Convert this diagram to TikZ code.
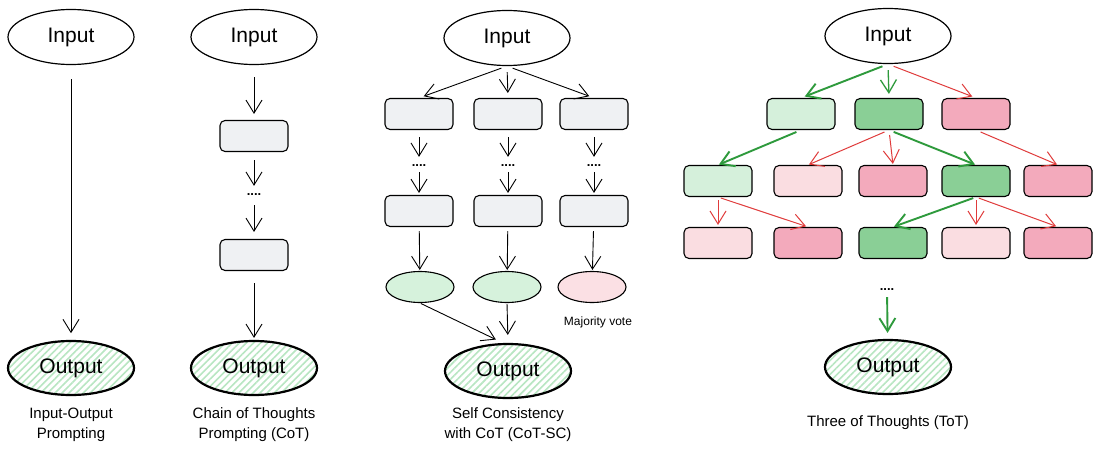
\documentclass[tikz,border=0pt]{standalone}
\usepackage{fontspec}
\setmainfont{Liberation Sans}
\usetikzlibrary{shapes.geometric,arrows.meta,patterns.meta}
\definecolor{graybox}{HTML}{EFF1F3}
\definecolor{lgreen}{HTML}{D5F0DB}
\definecolor{dgreen}{HTML}{8ACF96}
\definecolor{spink}{HTML}{F3AABC}
\definecolor{lpink}{HTML}{FADDE1}
\definecolor{egreen}{HTML}{D6F2DC}
\definecolor{epink}{HTML}{FBE0E4}
\definecolor{hatch}{HTML}{B8E6C2}
\definecolor{garrow}{HTML}{2E9A3C}
\definecolor{rarrow}{HTML}{E03B3B}
\begin{document}
\begin{tikzpicture}[x=1pt,y=-1pt,
  inell/.style={ellipse,draw,line width=1.2pt,minimum width=126pt,minimum height=55pt,inner sep=0pt,font=\fontsize{21}{24}\selectfont},
  outell/.style={ellipse,draw,line width=2.2pt,minimum width=126pt,minimum height=54pt,inner sep=0pt,
     preaction={fill=white},pattern={Lines[angle=45,distance=5pt,line width=1.6pt]},pattern color=hatch,
     font=\fontsize{21}{24}\selectfont},
  tbox/.style={rectangle,draw,line width=1.1pt,rounded corners=5pt,minimum width=68pt,minimum height=31pt,inner sep=0pt},
  sell/.style={ellipse,draw,line width=1.1pt,minimum width=68pt,minimum height=31pt,inner sep=0pt},
  dotsn/.style={inner sep=0pt,font=\fontsize{13}{14}\selectfont\bfseries},
  lab/.style={align=center,font=\fontsize{15}{20}\selectfont},
  arr/.style={line width=0.9pt,-{Straight Barb[length=13pt,width=16pt]}},
  garr/.style={draw=garrow,line width=1.9pt,-{Straight Barb[length=13pt,width=16pt]}},
  rarr/.style={draw=rarrow,line width=1pt,-{Straight Barb[length=13pt,width=16pt]}}
]
\useasboundingbox (0,0) rectangle (1100,455);
\fill[white] (0,0) rectangle (1100,455);

% Panel 1: Input-Output
\node[inell] (i1) at (71,37) {Input};
\node[outell] (o1) at (71,368) {Output};
\draw[arr,shorten <=14pt,shorten >=7pt] (i1) -- (o1);
\node[lab] (l1) at (71,425) {Input-Output\\Prompting};

% Panel 2: CoT
\node[inell] (i2) at (254,37) {Input};
\node[tbox,fill=graybox] (c1) at (254,136) {};
\node[dotsn] (cd) at (254,195) {....};
\node[tbox,fill=graybox] (c2) at (254,255) {};
\node[outell] (o2) at (254,368) {Output};
\draw[arr,shorten <=12pt,shorten >=6pt] (i2) -- (c1);
\draw[arr,shorten <=8pt,shorten >=8pt] (c1) -- (cd);
\draw[arr,shorten <=9pt,shorten >=7pt] (cd) -- (c2);
\draw[arr,shorten <=12pt,shorten >=2pt] (c2) -- (o2);
\node[lab] (l2) at (254,425) {Chain of Thoughts\\Prompting (CoT)};

% Panel 3: CoT-SC
\node[inell] (i3) at (507,38) {Input};
\foreach \n/\x in {1/419,2/508,3/594}{
  \node[tbox,fill=graybox] (s1\n) at (\x,114) {};
  \node[dotsn] (sd\n) at (\x,166) {....};
  \node[tbox,fill=graybox] (s2\n) at (\x,211) {};
  \draw[arr,shorten <=6pt,shorten >=5pt] (i3.south) -- (s1\n.north);
  \draw[arr,shorten <=7pt,shorten >=8pt] (s1\n) -- (sd\n);
  \draw[arr,shorten <=5pt,shorten >=2pt] (sd\n) -- (s2\n);
}
\node[sell,fill=egreen] (e1) at (420,287) {};
\node[sell,fill=egreen] (e2) at (507,287) {};
\node[sell,fill=epink] (e3) at (592,287) {};
\draw[arr,shorten <=4pt,shorten >=1pt] (s21) -- (e1);
\draw[arr,shorten <=4pt,shorten >=1pt] (s22) -- (e2);
\draw[arr,shorten <=4pt,shorten >=1pt] (s23) -- (e3);
\node[outell] (o3) at (508,371) {Output};
\draw[arr,shorten <=1pt,shorten >=8pt] (e1.south) -- (o3.100);
\draw[arr,shorten <=1pt,shorten >=8pt] (e2.south) -- (o3.north);
\node[font=\fontsize{12}{14}\selectfont] (mv) at (598,322) {Majority vote};
\node[lab] (l3) at (508,425) {Self Consistency\\with CoT (CoT-SC)};

% Panel 4: ToT
\node[inell] (i4) at (888,36) {Input};
\node[tbox,fill=lgreen] (t11) at (801,114) {};
\node[tbox,fill=dgreen] (t12) at (889,114) {};
\node[tbox,fill=spink]  (t13) at (976,114) {};
\node[tbox,fill=lgreen] (t21) at (718,181) {};
\node[tbox,fill=lpink]  (t22) at (808,181) {};
\node[tbox,fill=spink]  (t23) at (893,181) {};
\node[tbox,fill=dgreen] (t24) at (976,181) {};
\node[tbox,fill=spink]  (t25) at (1058,181) {};
\node[tbox,fill=lpink]  (t31) at (718,243) {};
\node[tbox,fill=spink]  (t32) at (808,243) {};
\node[tbox,fill=dgreen] (t33) at (893,243) {};
\node[tbox,fill=lpink]  (t34) at (976,243) {};
\node[tbox,fill=spink]  (t35) at (1058,243) {};
\draw[garr,shorten <=6pt,shorten >=4pt] (i4.south) -- (t11.north);
\draw[garr,line width=1.3pt,shorten <=6pt,shorten >=4pt] (i4.south) -- (t12.north);
\draw[rarr,shorten <=6pt,shorten >=4pt] (i4.south) -- (t13.north);
\draw[garr,shorten <=5pt,shorten >=1pt] (t11.south) -- (t21.north);
\draw[rarr,shorten <=5pt,shorten >=1pt] (t12.south) -- (t22.north);
\draw[rarr,shorten <=5pt,shorten >=1pt] (t12.south) -- (t23.north);
\draw[garr,shorten <=5pt,shorten >=1pt] (t12.south) -- (t24.north);
\draw[rarr,shorten <=5pt,shorten >=1pt] (t13.south) -- (t25.north);
\draw[rarr,shorten <=3pt,shorten >=2pt] (t21.south) -- (t31.north);
\draw[rarr,shorten <=3pt,shorten >=2pt] (t21.south) -- (t32.north);
\draw[garr,shorten <=3pt,shorten >=1pt] (t24.south) -- (t33.north);
\draw[rarr,shorten <=3pt,shorten >=2pt] (t24.south) -- (t34.north);
\draw[rarr,shorten <=3pt,shorten >=2pt] (t24.south) -- (t35.north);
\node[dotsn] (td) at (887,290) {....};
\node[outell] (o4) at (888,367) {Output};
\draw[garr,shorten <=6pt,shorten >=6pt] (td) -- (o4);
\node[lab] (l4) at (888,423) {Three of Thoughts (ToT)};
\end{tikzpicture}
\end{document}
